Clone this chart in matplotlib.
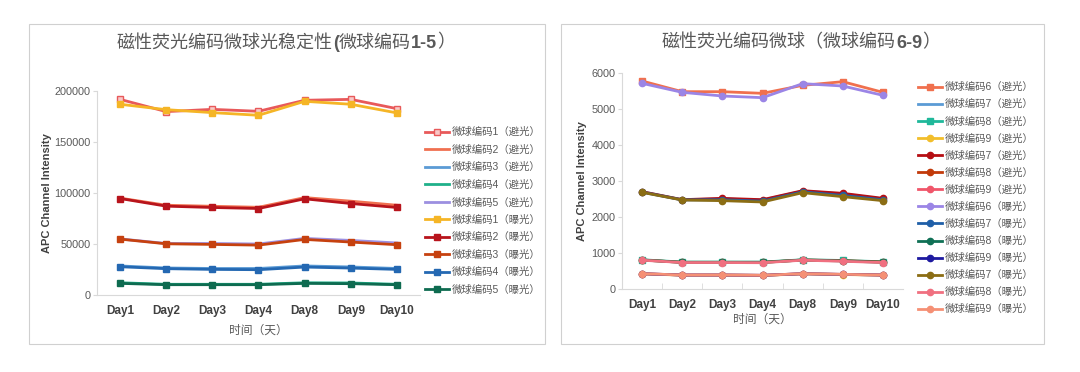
import matplotlib.pyplot as plt
from matplotlib.patches import Rectangle
from matplotlib.ticker import FixedLocator

plt.rcParams.update({
    "font.family": ["Liberation Sans", "Noto Sans CJK SC", "DejaVu Sans"],
    "figure.facecolor": "white",
    "axes.facecolor": "white",
})

GRAY = "#595959"
AXIS = "#D9D9D9"

days = ["Day1", "Day2", "Day3", "Day4", "Day8", "Day9", "Day10"]

# ---------- left chart data (微球编码1-5) ----------
left_labels = ["微球编码1（避光）", "微球编码2（避光）", "微球编码3（避光）", "微球编码4（避光）",
               "微球编码5（避光）", "微球编码1（曝光）", "微球编码2（曝光）", "微球编码3（曝光）",
               "微球编码4（曝光）", "微球编码5（曝光）"]
code1_dark = [191800, 179800, 182000, 180100, 190900, 191800, 182700]
code2_dark = [95000, 88000, 87000, 86000, 95500, 92000, 88000]
code3_dark = [28500, 26500, 26000, 26000, 28500, 27500, 26000]
code4_dark = [12000, 10500, 10500, 10500, 12000, 11800, 10500]
code5_dark = [55000, 50500, 50500, 50000, 55500, 53500, 51000]
code1_exp = [187000, 181700, 178800, 176200, 189900, 187000, 178500]
code2_exp = [94600, 87100, 85800, 84800, 94300, 89700, 85800]
code3_exp = [54800, 50200, 49600, 48900, 54500, 51900, 49300]
code4_exp = [27700, 25800, 25100, 24800, 27400, 26400, 25100]
code5_exp = [11400, 10100, 10100, 10100, 11400, 11100, 10100]
left_series = [code1_dark, code2_dark, code3_dark, code4_dark, code5_dark,
               code1_exp, code2_exp, code3_exp, code4_exp, code5_exp]
left_colors = ["#E8595A", "#F07050", "#5B9BD5", "#1FB08A", "#9C8FE0",
               "#F5B526", "#B8141C", "#C6410F", "#2468B2", "#0E6B50"]
left_markers = ["s", None, None, None, None, "s", "s", "s", "s", "s"]

# ---------- right chart data (微球编码6-9) ----------
right_labels = ["微球编码6（避光）", "微球编码7（避光）", "微球编码8（避光）", "微球编码9（避光）",
                "微球编码7（避光）", "微球编码8（避光）", "微球编码9（避光）", "微球编码6（曝光）",
                "微球编码7（曝光）", "微球编码8（曝光）", "微球编码9（曝光）", "微球编码7（曝光）",
                "微球编码8（曝光）", "微球编码9（曝光）"]
c6_dark = [5778, 5481, 5481, 5435, 5657, 5759, 5463]
c7_dark_a = [2700, 2480, 2500, 2470, 2720, 2640, 2500]
c8_dark_a = [812, 748, 748, 748, 812, 792, 756]
c9_dark_a = [420, 385, 385, 378, 420, 402, 385]
c7_dark_b = [2704, 2481, 2519, 2481, 2731, 2657, 2519]
c8_dark_b = [806, 741, 741, 741, 806, 787, 750]
c9_dark_b = [426, 389, 389, 380, 426, 407, 389]
c6_exp = [5713, 5463, 5361, 5315, 5704, 5639, 5380]
c7_exp_a = [2690, 2475, 2480, 2440, 2700, 2600, 2480]
c8_exp_a = [805, 740, 740, 738, 805, 780, 742]
c9_exp_a = [424, 388, 388, 380, 424, 405, 388]
c7_exp_b = [2685, 2472, 2454, 2417, 2676, 2565, 2454]
c8_exp_b = [800, 735, 735, 730, 800, 770, 735]
c9_exp_b = [426, 389, 389, 380, 426, 407, 389]
right_series = [c6_dark, c7_dark_a, c8_dark_a, c9_dark_a, c7_dark_b, c8_dark_b, c9_dark_b,
                c6_exp, c7_exp_a, c8_exp_a, c9_exp_a, c7_exp_b, c8_exp_b, c9_exp_b]
right_colors = ["#F0704E", "#5B9BD5", "#1FB89A", "#F2BE2B", "#B50E13", "#C23A0A", "#F0566A",
                "#9B85E6", "#1F5FA8", "#0F7055", "#1E1AA0", "#8B6D14", "#F07080", "#F59075"]
right_markers = ["s", None, "s", "o", "o", "o", "o", "o", "o", "o", "o", "o", "o", "o"]

left_title = [("磁性荧光编码微球光稳定性", "normal"), ("(", "bold"), ("微球编码", "normal"),
              ("1-5", "bold"), ("）", "normal")]
right_title = [("磁性荧光编码微球（微球编码", "normal"), ("6-9", "bold"), ("）", "normal")]

W, H = 1080, 372
fig = plt.figure(figsize=(W / 100, H / 100), dpi=100)

# panel frames
for x0, x1 in [(29, 545), (561, 1044)]:
    fig.patches.append(Rectangle((x0 / W, 1 - 344 / H), (x1 - x0) / W, 320 / H,
                                 transform=fig.transFigure, fill=False,
                                 edgecolor="#D0D0D0", linewidth=0.8))


def style_axes(ax, ymax):
    x = range(len(days))
    ax.set_xlim(-0.5, len(days) - 0.5)
    ax.set_ylim(0, ymax)
    for s in ["top", "right"]:
        ax.spines[s].set_visible(False)
    for s in ["left", "bottom"]:
        ax.spines[s].set_color(AXIS)
        ax.spines[s].set_linewidth(0.8)
    ax.set_xticks(list(x))
    ax.set_xticklabels(days, fontsize=8.5, fontweight="bold", color="#404040")
    ax.tick_params(axis="x", length=0, pad=7)
    ax.tick_params(axis="y", labelsize=7.8, labelcolor=GRAY, length=3, color=AXIS, pad=1.5)
    ax.set_ylabel("APC Channel Intensity", fontsize=8, fontweight="bold", color="#404040")
    ax.set_xlabel("时间（天）", fontsize=8.5, color=GRAY)


def draw(ax, series, colors, markers, labels):
    for vals, c, m, lab in zip(series, colors, markers, labels):
        ax.plot(days, vals, color=c, linewidth=2, marker=m, markersize=4.5,
                markerfacecolor=c, markeredgecolor=c, label=lab)


def mixed_title(pieces, xc, yc, size=13):
    # draw title pieces side by side, then center the whole line
    r = fig.canvas.get_renderer()
    texts, widths = [], []
    for s, w in pieces:
        t = fig.text(0, yc, s, fontsize=size, fontweight=w, color=GRAY, va="center")
        texts.append(t)
        widths.append(t.get_window_extent(r).width / W)
    x = xc - sum(widths) / 2
    for t, w in zip(texts, widths):
        t.set_x(x)
        x += w


# ---------- left chart ----------
ax1 = fig.add_axes([97 / W, 1 - 295 / H, 323 / W, 204 / H])
draw(ax1, left_series, left_colors, left_markers, left_labels)
ax1.lines[0].set_markerfacecolor("#F8C8C8")
style_axes(ax1, 200000)
ax1.set_yticks([0, 50000, 100000, 150000, 200000])
ax1.yaxis.set_label_coords(-0.14, 0.5)
ax1.xaxis.labelpad = 6
mixed_title(left_title, 286 / W, 1 - 43 / H)
fig.legend(handles=ax1.lines, labels=left_labels, loc="upper left",
           bbox_to_anchor=(425 / W, 1 - 127 / H), frameon=False, fontsize=7.5,
           borderpad=0, borderaxespad=0, handlelength=2.3, handletextpad=0.3,
           labelspacing=0.71, labelcolor=GRAY)

# ---------- right chart ----------
ax2 = fig.add_axes([622 / W, 1 - 289 / H, 281 / W, 216 / H])
draw(ax2, right_series, right_colors, right_markers, right_labels)
style_axes(ax2, 6000)
ax2.set_yticks([0, 1000, 2000, 3000, 4000, 5000, 6000])
ax2.xaxis.set_minor_locator(FixedLocator([i + 0.5 for i in range(len(days) - 1)]))
ax2.tick_params(axis="x", which="minor", direction="in", length=4, color=AXIS)
ax2.yaxis.set_label_coords(-0.125, 0.5)
ax2.xaxis.labelpad = 2
mixed_title(right_title, 801 / W, 1 - 43 / H)
fig.legend(handles=ax2.lines, labels=right_labels, loc="upper left",
           bbox_to_anchor=(918 / W, 1 - 82 / H), frameon=False, fontsize=7.5,
           borderpad=0, borderaxespad=0, handlelength=2.3, handletextpad=0.3,
           labelspacing=0.67, labelcolor=GRAY)

fig.savefig("out.png", dpi=100)
